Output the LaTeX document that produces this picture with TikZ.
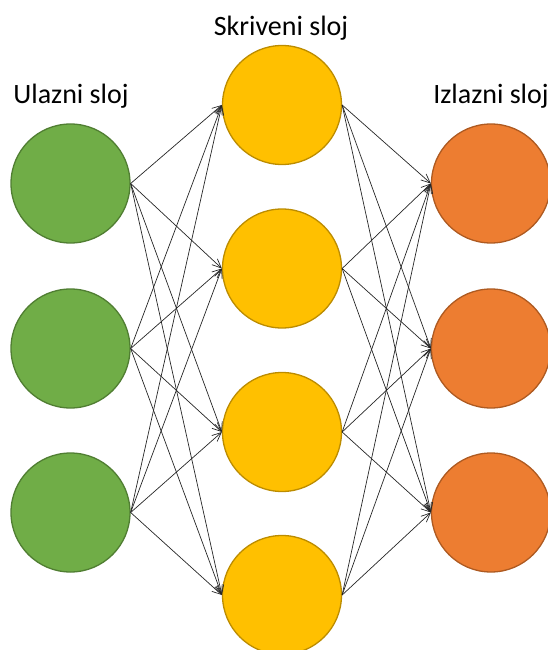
\documentclass[tikz,border=0pt]{standalone}
\usepackage{fontspec}
\setmainfont{Carlito}
\usetikzlibrary{arrows.meta}
\definecolor{ingreen}{HTML}{70AD47}
\definecolor{ingreenb}{HTML}{507E32}
\definecolor{hidyel}{HTML}{FFC000}
\definecolor{hidyelb}{HTML}{BC8C00}
\definecolor{outor}{HTML}{ED7D31}
\definecolor{outorb}{HTML}{AE5A21}
\tikzset{
  neuron/.style={circle, minimum size=119pt, inner sep=0pt, line width=1.3pt},
  inneuron/.style={neuron, fill=ingreen, draw=ingreenb},
  hidneuron/.style={neuron, fill=hidyel, draw=hidyelb},
  outneuron/.style={neuron, fill=outor, draw=outorb},
  conn/.style={draw=black!85, line width=0.7pt, -{Straight Barb[length=9pt,width=8pt,line width=0.7pt]}},
  layerlabel/.style={font=\fontsize{28}{34}\selectfont, inner sep=0pt, anchor=base}
}
\begin{document}
\begin{tikzpicture}[x=1pt,y=-1pt]
\useasboundingbox (0,0) rectangle (548,650);
\node[inneuron] (i1) at (70.5,183.5) {};
\node[inneuron] (i2) at (70.5,348.5) {};
\node[inneuron] (i3) at (70.5,512.5) {};
\node[hidneuron] (h1) at (282,105) {};
\node[hidneuron] (h2) at (282,268.5) {};
\node[hidneuron] (h3) at (282,432) {};
\node[hidneuron] (h4) at (282,595) {};
\node[outneuron] (o1) at (491,183.5) {};
\node[outneuron] (o2) at (491,348.5) {};
\node[outneuron] (o3) at (491,512.5) {};
\node[layerlabel] (lin) at (71,103) {Ulazni sloj};
\node[layerlabel] (lhid) at (281,36) {Skriveni sloj};
\node[layerlabel] (lout) at (491,103) {Izlazni sloj};
\foreach \i in {1,2,3}{
  \foreach \h in {1,2,3,4}{
    \draw[conn] (i\i.east) -- (h\h.west);
  }
}
\foreach \h in {1,2,3,4}{
  \foreach \o in {1,2,3}{
    \draw[conn] (h\h.east) -- (o\o.west);
  }
}
\end{tikzpicture}
\end{document}
